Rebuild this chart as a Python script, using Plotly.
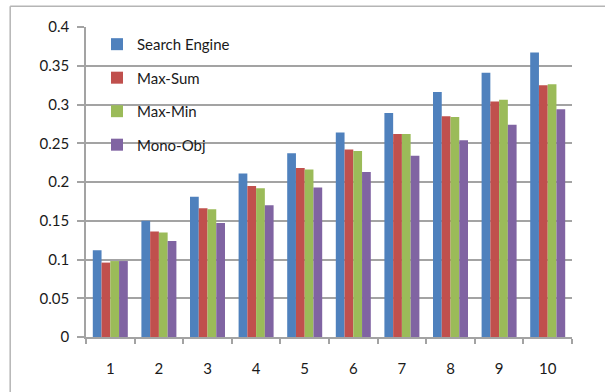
import plotly.graph_objects as go

# Query sizes 1..10 and the score of each method
categories = ["1", "2", "3", "4", "5", "6", "7", "8", "9", "10"]
search_engine = [0.112, 0.150, 0.181, 0.211, 0.237, 0.264, 0.289, 0.316, 0.341, 0.367]
max_sum = [0.096, 0.136, 0.166, 0.195, 0.218, 0.242, 0.262, 0.285, 0.304, 0.325]
max_min = [0.098, 0.135, 0.165, 0.192, 0.216, 0.240, 0.262, 0.284, 0.306, 0.326]
mono_obj = [0.098, 0.124, 0.147, 0.170, 0.193, 0.213, 0.234, 0.254, 0.274, 0.294]

y_ticks = [0, 0.05, 0.1, 0.15, 0.2, 0.25, 0.3, 0.35, 0.4]
y_labels = ["0", "0.05", "0.1", "0.15", "0.2", "0.25", "0.3", "0.35", "0.4"]

series = [
    ("Search Engine", search_engine, "#4F81BD"),
    ("Max-Sum", max_sum, "#C0504D"),
    ("Max-Min", max_min, "#9BBB59"),
    ("Mono-Obj", mono_obj, "#8064A2"),
]

font = dict(family="Lato, 'Liberation Sans', sans-serif", size=15, color="#1a1a1a")

fig = go.Figure()
for i, (name, vals, color) in enumerate(series):
    fig.add_trace(go.Bar(
        x=categories, y=vals, name=name,
        marker=dict(color=color, line=dict(width=0)),
        legendgroup=f"g{i}",
    ))

grid = "#a3a3a3"
fig.update_layout(
    width=605, height=392,
    margin=dict(l=86, r=33, t=27, b=55),
    paper_bgcolor="white", plot_bgcolor="white",
    barmode="group", bargap=0.28, bargroupgap=0,
    font=font,
    showlegend=True,
    legend=dict(
        x=0.0226, y=0.997, xanchor="left", yanchor="top",
        bgcolor="rgba(0,0,0,0)", traceorder="grouped",
        tracegroupgap=11, font=dict(size=15),
        itemwidth=30,
    ),
    xaxis=dict(
        type="category", showgrid=False,
        showline=True, linecolor=grid, linewidth=1.5,
        ticks="outside", tickson="boundaries", ticklen=5,
        tickcolor=grid, tickwidth=1.5,
        ticklabelstandoff=17,
    ),
    yaxis=dict(
        range=[0, 0.4], tickvals=y_ticks, ticktext=y_labels,
        showgrid=True, gridcolor=grid, gridwidth=1.6,
        showline=True, linecolor=grid, linewidth=1.5,
        ticks="outside", ticklen=7, tickcolor=grid, tickwidth=1.5,
        ticklabelstandoff=5,
        zeroline=False,
    ),
    shapes=[
        dict(type="line", xref="paper", yref="paper",
             x0=-0.156, x1=1.1, y0=1.067, y1=1.067,
             line=dict(color="#b5b5b5", width=1.5)),
        dict(type="line", xref="paper", yref="paper",
             x0=-0.156, x1=-0.156, y0=1.067, y1=-0.2,
             line=dict(color="#b5b5b5", width=1.5)),
    ],
)

fig.write_html("out.html")
